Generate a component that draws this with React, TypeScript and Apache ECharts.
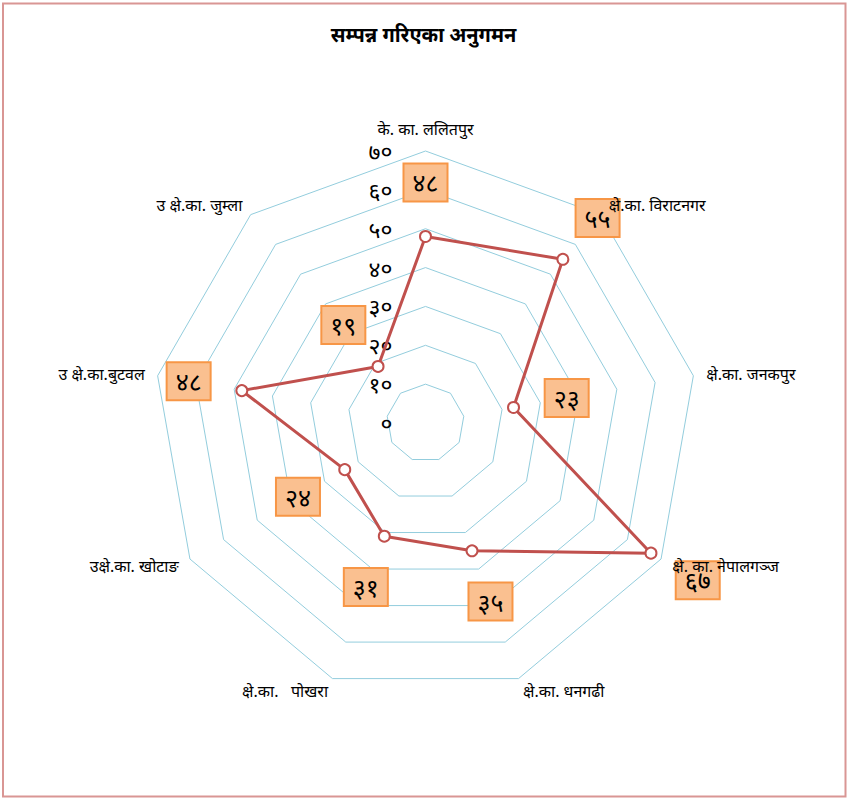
import React, { useEffect, useRef } from 'react';
import * as echarts from 'echarts';

const TITLE = 'सम्पन्न गरिएका अनुगमन';
// clockwise from the top
const OFFICES = [
  'के. का. ललितपुर',
  'क्षे.का. विराटनगर',
  'क्षे.का. जनकपुर',
  'क्षे. का. नेपालगञ्ज',
  'क्षे.का. धनगढी',
  'क्षे.का.   पोखरा',
  'उक्षे.का. खोटाङ',
  'उ क्षे.का.बुटवल',
  'उ क्षे.का. जुम्ला',
];
const VALUES = [48, 55, 23, 67, 35, 31, 24, 48, 19];
const TICK_LABELS = ['०', '१०', '२०', '३०', '४०', '५०', '६०', '७०'];
const AXIS_MAX = 70;
const TICK_STEP = 10;

const DEV_DIGITS = '०१२३४५६७८९';
const toDev = (v: number | string) => String(v).replace(/\d/g, (d) => DEV_DIGITS[Number(d)]);

const CX = 425.5;
const CY = 423;
const R = 272;
const FONT = "'Noto Sans', sans-serif";

export default function App() {
  const ref = useRef<HTMLDivElement>(null);
  useEffect(() => {
    document.body.style.margin = '0';
    if (!ref.current) return;
    const chart = echarts.init(ref.current, null, { renderer: 'svg' });
    // ECharts lays radar indicators out counter-clockwise; reorder to get clockwise placement
    const order = [0, ...OFFICES.map((_, i) => i).slice(1).reverse()];
    const names = order.map((i) => OFFICES[i]);
    const vals = order.map((i) => VALUES[i]);
    const common = {
      center: [CX, CY],
      radius: R,
      startAngle: 90,
      splitNumber: AXIS_MAX / TICK_STEP,
      shape: 'polygon',
    };
    chart.setOption({
      animation: false,
      textStyle: { fontFamily: FONT },
      title: {
        text: TITLE,
        left: 'center',
        top: 19,
        textStyle: { fontSize: 20, fontWeight: 'bold', color: '#000', fontFamily: FONT },
      },
      graphic: [
        {
          type: 'rect',
          shape: { x: 3, y: 3.5, width: 842.5, height: 793 },
          style: { fill: 'none', stroke: '#d99694', lineWidth: 2 },
          silent: true,
        },
      ],
      radar: [
        {
          ...common,
          z: 0,
          indicator: names.map((n, k) => ({
            name: n,
            min: 0,
            max: AXIS_MAX,
            axisLabel: { show: k === 0 },
          })),
          axisName: { show: false },
          axisLine: { show: false },
          axisTick: { show: false },
          splitLine: { lineStyle: { color: '#93cddd', width: 1 } },
          splitArea: { show: false },
          axisLabel: {
            show: false,
            margin: 33,
            fontSize: 23,
            lineHeight: 18,
            color: '#000',
            fontFamily: FONT,
            formatter: (v: number) => TICK_LABELS[Math.round(v / TICK_STEP)] ?? '',
          },
        },
        {
          ...common,
          z: 10,
          indicator: names.map((n) => ({ name: n, min: 0, max: AXIS_MAX })),
          axisName: { show: true, color: '#000', fontSize: 16, lineHeight: 18, fontFamily: FONT },
          axisNameGap: 13,
          axisLine: { show: false },
          axisTick: { show: false },
          splitLine: { show: false },
          splitArea: { show: false },
          axisLabel: { show: false },
        },
      ],
      series: [
        {
          type: 'radar',
          radarIndex: 0,
          z: 2,
          symbol: 'emptyCircle',
          symbolSize: 11,
          lineStyle: { color: '#c0504d', width: 3 },
          itemStyle: { color: '#c0504d', borderColor: '#c0504d', borderWidth: 3 },
          label: {
            show: true,
            position: 'inside',
            formatter: (p: any) => toDev(p.value),
            fontSize: 25,
            lineHeight: 26,
            color: '#000',
            fontFamily: FONT,
            backgroundColor: '#fac090',
            borderColor: '#f79646',
            borderWidth: 2,
            padding: [5, 8],
          },
          labelLayout: (p: any) => {
            const r = p.rect;
            const x = r.x + r.width / 2;
            const y = r.y + r.height / 2;
            const dx = x - CX;
            const dy = y - CY;
            const len = Math.hypot(dx, dy) || 1;
            return {
              x: x + (dx / len) * 54,
              y: y + (dy / len) * 54,
              align: 'center',
              verticalAlign: 'middle',
            };
          },
          data: [{ value: vals, name: TITLE }],
        },
      ],
    });
    return () => chart.dispose();
  }, []);
  return <div ref={ref} style={{ width: 847, height: 798 }} />;
}
